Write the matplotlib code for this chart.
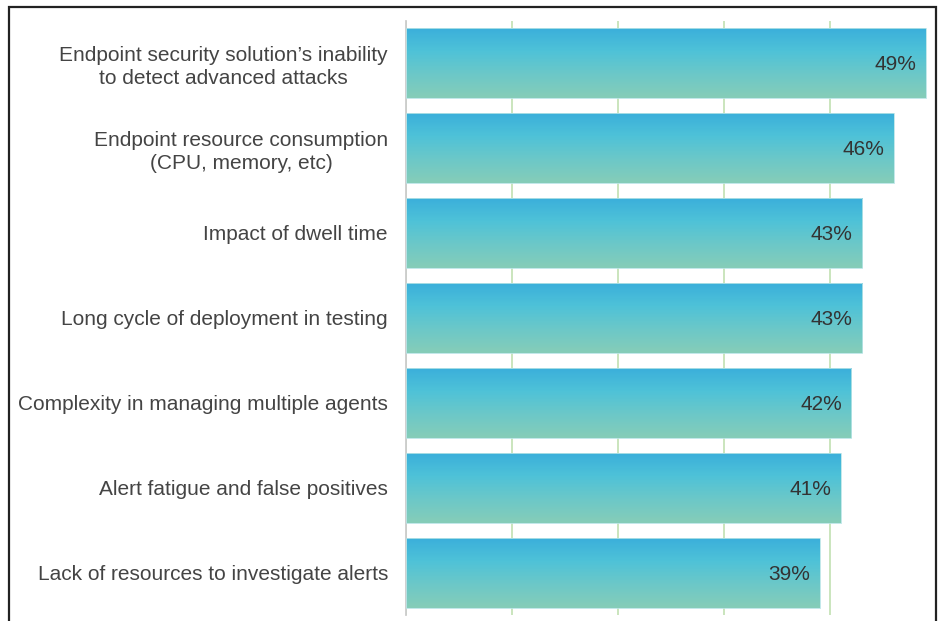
import matplotlib.pyplot as plt
import numpy as np
from matplotlib.colors import LinearSegmentedColormap
from matplotlib.patches import Rectangle

plt.rcParams['font.family'] = ['Liberation Sans', 'DejaVu Sans']

# Survey answers, top to bottom
labels = [
    "Endpoint security solution\u2019s inability\nto detect advanced attacks",
    "Endpoint resource consumption\n(CPU, memory, etc)",
    "Impact of dwell time",
    "Long cycle of deployment in testing",
    "Complexity in managing multiple agents",
    "Alert fatigue and false positives",
    "Lack of resources to investigate alerts",
]
values = [49, 46, 43, 43, 42, 41, 39]

fig = plt.figure(figsize=(9.4, 6.21), dpi=100)
ax = fig.add_axes([406 / 940, 6 / 621, 525 / 940, 594.5 / 621])

y = np.arange(len(values))
bars = ax.barh(y, values, height=0.825, color='none', edgecolor='#b8e4e6', linewidth=0.6, zorder=3)

# vertical gradient: cyan on top fading to sea green at the bottom
grad = LinearSegmentedColormap.from_list('bar', ['#3aaedb', '#4ec2d8', '#6cc8c8', '#86cdb8'])
g = np.linspace(0, 1, 256).reshape(-1, 1)
for b in bars:
    x0, y0 = b.get_x(), b.get_y()
    w, h = b.get_width(), b.get_height()
    im = ax.imshow(g, cmap=grad, aspect='auto', extent=(x0, x0 + w, y0 + h, y0),
                   origin='upper', zorder=2)
    im.set_clip_path(b)

for yi, v in zip(y, values):
    ax.text(v - 0.9, yi + 0.02, f"{v}%", ha='right', va='center', fontsize=15, color='#333333', zorder=4)

ax.set_xlim(0, 49.5)
ax.set_ylim(len(values) - 0.5, -0.5)
ax.set_xticks([0, 10, 20, 30, 40])
ax.set_xticklabels([])
ax.tick_params(axis='x', length=0)
ax.grid(axis='x', color='#c6e3b8', linewidth=1.3, zorder=0)
ax.set_axisbelow(True)

ax.set_yticks(y)
ax.set_yticklabels(labels, fontsize=15, color='#444444', linespacing=1.25, multialignment='center')
ax.tick_params(axis='y', length=0, pad=13)

for s in ['top', 'right', 'bottom']:
    ax.spines[s].set_visible(False)
ax.spines['left'].set_color('#cccccc')
ax.spines['left'].set_linewidth(1.3)

# outer frame around the whole chart
fig.patches.append(Rectangle((9 / 940, -0.05), 927 / 940, 1.05 - 7 / 621, transform=fig.transFigure,
                             fill=False, edgecolor='#222222', linewidth=1.6))

fig.savefig('out.png', dpi=100)
